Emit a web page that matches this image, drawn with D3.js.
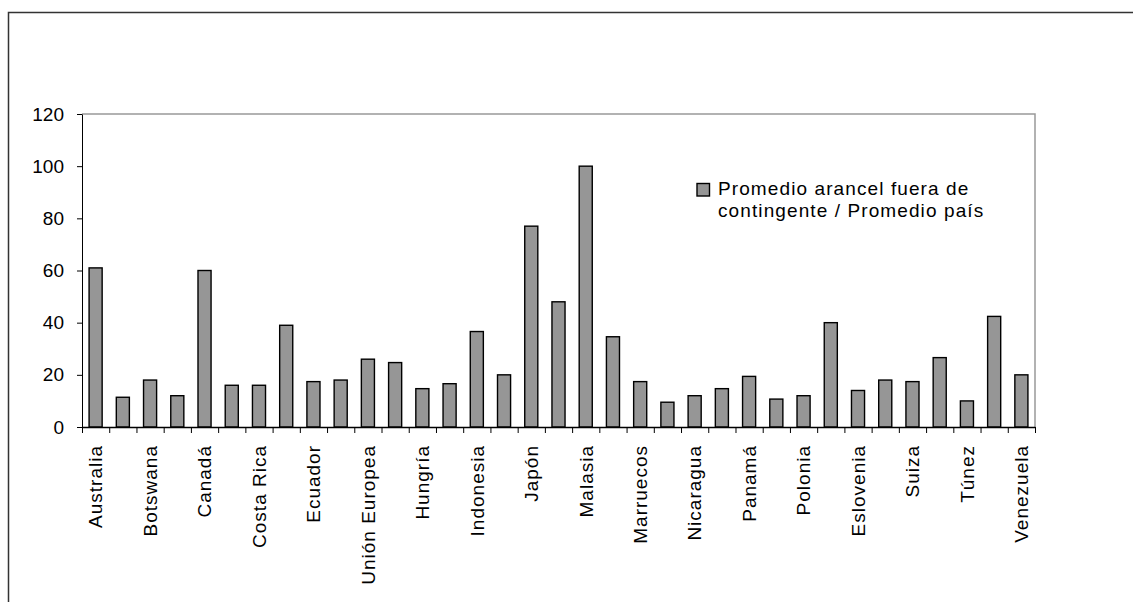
<!DOCTYPE html>
<html lang="es">
<head>
<meta charset="utf-8">
<title>Promedio arancel fuera de contingente / Promedio país</title>
<script src="https://cdn.jsdelivr.net/npm/d3@7"></script>
<style>
  html, body { margin: 0; padding: 0; background: #fff; }
  svg { display: block; font-family: "Liberation Sans", Arial, sans-serif; }
</style>
</head>
<body>
<svg id="chart" width="1133" height="602"></svg>
<script>
// Country labels: only every other category carries a visible label on the axis.
const categories = [
  "Australia", "", "Botswana", "", "Canadá", "", "Costa Rica", "", "Ecuador", "",
  "Unión Europea", "", "Hungría", "", "Indonesia", "", "Japón", "", "Malasia", "",
  "Marruecos", "", "Nicaragua", "", "Panamá", "", "Polonia", "", "Eslovenia", "",
  "Suiza", "", "Túnez", "", "Venezuela"
];

// Ratio: average out-of-quota tariff / country average
const values = [
  61, 11.4, 18, 12, 60, 16, 16, 39, 17.4, 18,
  26, 24.7, 14.7, 16.6, 36.6, 20, 77, 48, 100, 34.6,
  17.4, 9.5, 12, 14.7, 19.4, 10.7, 12, 40, 14, 18,
  17.4, 26.6, 10, 42.4, 20
];

const yTicks = [0, 20, 40, 60, 80, 100, 120];
const seriesName = ["Promedio arancel fuera de", "contingente / Promedio país"];

const svg = d3.select("#chart");

// Plot area bounds
const plotLeft = 82, plotRight = 1035, plotTop = 114, plotBottom = 427;
const idx = d3.range(values.length);

const x = d3.scaleBand()
  .domain(idx)
  .range([plotLeft, plotRight])
  .paddingInner(0.52)
  .paddingOuter(0.26);

// Linear scale over category boundaries, used for the between-category ticks
const xEdge = d3.scaleLinear().domain([0, values.length]).range([plotLeft, plotRight]);

const y = d3.scaleLinear().domain([0, 120]).range([plotBottom, plotTop]);

// Outer chart frame
svg.append("rect")
  .attr("x", 8.5).attr("y", 12.5)
  .attr("width", 1200).attr("height", 700)
  .attr("fill", "none")
  .attr("stroke", "#333")
  .attr("stroke-width", 1.5);

// Plot area border (top and right edges)
svg.append("path")
  .attr("d", `M${plotLeft},${plotTop}H${plotRight}V${plotBottom}`)
  .attr("fill", "none")
  .attr("stroke", "#999")
  .attr("stroke-width", 1.5);

// Bars
svg.append("g")
  .selectAll("rect")
  .data(values)
  .join("rect")
  .attr("x", (d, i) => x(i))
  .attr("y", d => y(d))
  .attr("width", x.bandwidth())
  .attr("height", d => y(0) - y(d))
  .attr("fill", "#969696")
  .attr("stroke", "#000")
  .attr("stroke-width", 1.4);

// Y axis
const yAxis = svg.append("g")
  .attr("transform", `translate(${plotLeft},0)`)
  .call(d3.axisLeft(y).tickValues(yTicks).tickSize(5).tickPadding(13).tickSizeOuter(0));
yAxis.select(".domain").attr("stroke", "#000");
yAxis.selectAll(".tick line").attr("stroke", "#000");
yAxis.selectAll(".tick text")
  .attr("font-size", 19)
  .attr("font-family", "Liberation Sans, Arial, sans-serif")
  .attr("fill", "#000");

// X axis: line plus ticks at category boundaries
const xAxis = svg.append("g")
  .attr("transform", `translate(0,${plotBottom})`)
  .call(d3.axisBottom(xEdge).tickValues(d3.range(values.length + 1)).tickSize(6).tickFormat(() => "").tickSizeOuter(0));
xAxis.select(".domain").attr("stroke", "#000").attr("stroke-width", 1.4);
xAxis.selectAll(".tick line").attr("stroke", "#000");

// Rotated category labels
svg.append("g")
  .selectAll("text")
  .data(categories.map((c, i) => ({ c, i })).filter(d => d.c !== ""))
  .join("text")
  .attr("transform", d => `translate(${x(d.i) + x.bandwidth() / 2},${plotBottom + 18}) rotate(-90)`)
  .attr("dy", "0.36em")
  .attr("text-anchor", "end")
  .attr("font-size", 19)
  .attr("letter-spacing", "1px")
  .attr("fill", "#000")
  .text(d => d.c);

// Legend
const legend = svg.append("g");
legend.append("rect")
  .attr("x", 697).attr("y", 183.5)
  .attr("width", 12.5).attr("height", 12.5)
  .attr("fill", "#969696")
  .attr("stroke", "#000")
  .attr("stroke-width", 1.4);
legend.selectAll("text")
  .data(seriesName)
  .join("text")
  .attr("x", 718)
  .attr("y", (d, i) => 195 + i * 22)
  .attr("font-size", 19)
  .attr("letter-spacing", "1.1px")
  .attr("fill", "#000")
  .text(d => d);
</script>
</body>
</html>
